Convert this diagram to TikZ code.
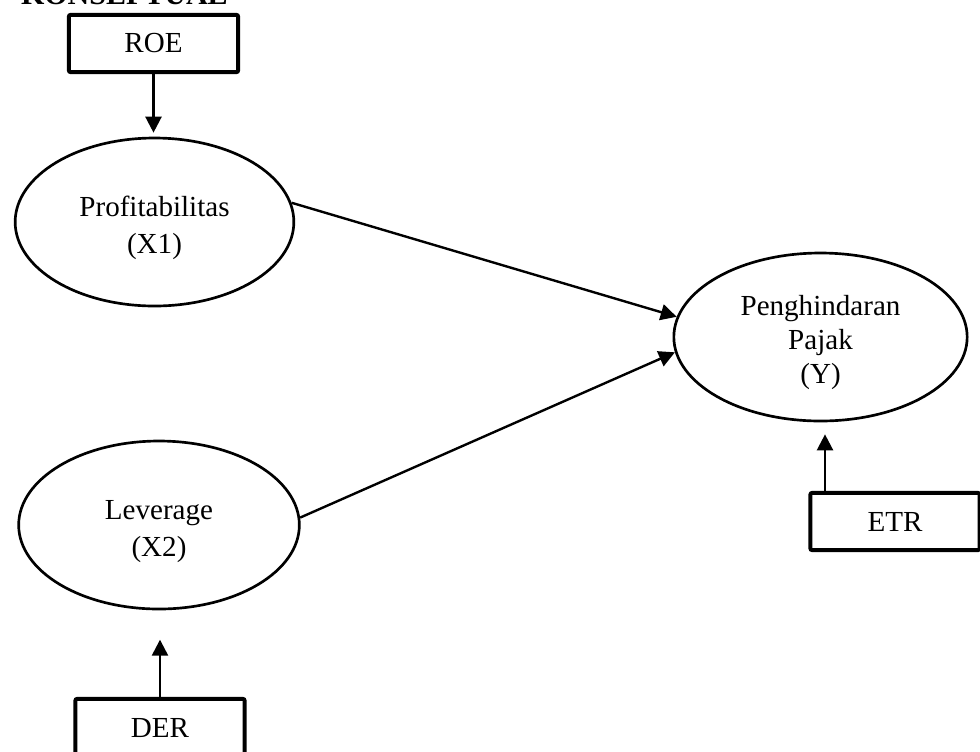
\documentclass[tikz,border=0pt]{standalone}
\usepackage{fontspec}
\setmainfont{Liberation Serif}
\usetikzlibrary{arrows.meta,shapes.geometric}
\newcommand{\topgap}{\rule{0pt}{24pt}}
\begin{document}
\begin{tikzpicture}[x=0.75pt,y=-0.75pt,
  lbl/.style={font=\fontsize{21.8}{27.5}\selectfont, align=center},
  ell/.style={ellipse, draw, line width=2pt, inner sep=0pt, minimum height=126pt, lbl},
  box/.style={rectangle, draw, line width=3pt, rounded corners=1.5pt, minimum width=127pt, minimum height=43pt, inner sep=0pt, lbl},
  arr/.style={line width=1.8pt, -{Triangle[length=12pt,width=12pt]}}]
\clip (0,0) rectangle (980,751);
\path[use as bounding box] (0,0) rectangle (980,751);
% title (cut off at top)
\node[anchor=base east, inner sep=0pt, font=\fontsize{22.5}{27}\selectfont\bfseries] (title) at (228,4) {KONSEPTUAL};
% nodes
\node[box] (roe) at (153.5,43.5) {ROE};
\node[ell, minimum width=209pt] (x1) at (154.5,222) {\topgap Profitabilitas\\(X1)};
\node[ell, minimum width=220pt, font=\fontsize{21.8}{25.5}\selectfont] (y) at (820.5,337) {\topgap Penghindaran\\Pajak\\(Y)};
\node[ell, minimum width=210.5pt] (x2) at (159,525) {\topgap Leverage\\(X2)};
\node[box] (der) at (160,727.5) {DER};
\node[box] (etr) at (895,521.5) {ETR};
% connectors
\draw[arr, shorten >=3pt] (roe.south) -- (roe.south |- x1.north);
\draw[arr, shorten >=22pt] (der.north) -- (der.north |- x2.south);
\coordinate (etrtop) at ([xshift=12.5pt]etr.north west);
\draw[arr, shorten >=9pt] (etrtop) -- (etrtop |- y.south);
\draw[arr] (x1.8) -- (y.172);
\draw[arr] (x2.3) -- (y.186);
\end{tikzpicture}
\end{document}
